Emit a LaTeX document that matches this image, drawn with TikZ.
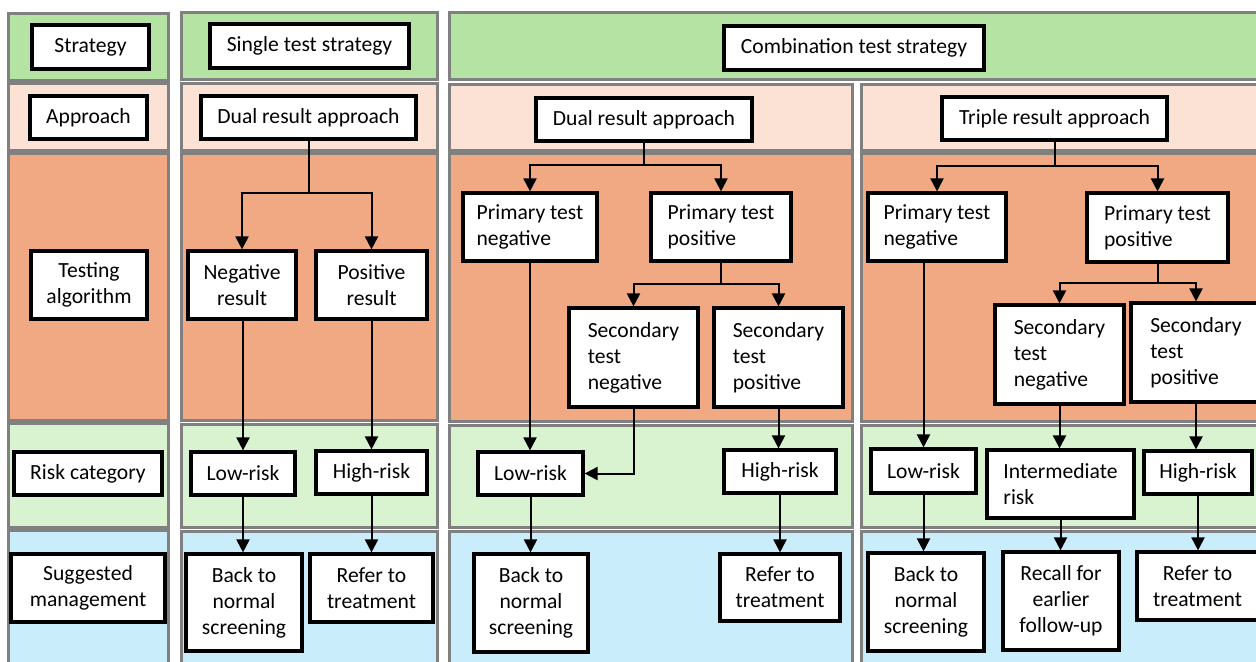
\documentclass[tikz,border=0pt]{standalone}
\usepackage{fontspec}
\setmainfont{Carlito}
\usetikzlibrary{arrows.meta}
\definecolor{gStrat}{HTML}{B4E3A3}
\definecolor{gAppr}{HTML}{FBE2D5}
\definecolor{gTest}{HTML}{F1A983}
\definecolor{gRisk}{HTML}{D9F2D0}
\definecolor{gMgmt}{HTML}{CAEDFB}
\definecolor{gEdge}{HTML}{808080}
\newcommand\bx[7][box]{\node[#1,minimum width={(#5-#3)*0.5pt},minimum height={(#6-#4)*0.5pt}] (#2) at ({(#3+#5)/2},{(#4+#6)/2+1}) {#7};}
\begin{document}
\begin{tikzpicture}[x=0.5pt,y=-0.5pt,
  cell/.style={draw=gEdge,line width=1.5pt},
  box/.style={draw=black,line width=1.6pt,fill=white,inner sep=1pt,font=\fontsize{10.8}{13}\selectfont,align=center},
  lbox/.style={box,align=left},
  arr/.style={line width=1pt,-{Triangle[length=6.5pt,width=6.5pt]}},
  ln/.style={line width=1pt}]
\useasboundingbox (0,0) rectangle (1256,661);
\clip (0,0) rectangle (1256,661);
% left column cells
\draw[cell,fill=gStrat] (8,13) rectangle (168,80);
\draw[cell,fill=gAppr] (8,83) rectangle (168,150);
\draw[cell,fill=gTest] (8,153) rectangle (168,420);
\draw[cell,fill=gRisk] (8,423) rectangle (168,527);
\draw[cell,fill=gMgmt] (8,530) rectangle (168,680);
% single column cells
\draw[cell,fill=gStrat] (181,12) rectangle (437,79);
\draw[cell,fill=gAppr] (181,83) rectangle (437,150);
\draw[cell,fill=gTest] (181,153) rectangle (437,420);
\draw[cell,fill=gRisk] (181,424) rectangle (437,527);
\draw[cell,fill=gMgmt] (181,531) rectangle (437,680);
% combination cells
\draw[cell,fill=gStrat] (449,12) rectangle (1275,79);
\draw[cell,fill=gAppr] (449,84) rectangle (852,150);
\draw[cell,fill=gTest] (449,153) rectangle (852,421);
\draw[cell,fill=gRisk] (449,425) rectangle (852,527);
\draw[cell,fill=gMgmt] (449,531) rectangle (852,680);
\draw[cell,fill=gAppr] (861,84) rectangle (1275,150);
\draw[cell,fill=gTest] (861,153) rectangle (1275,421);
\draw[cell,fill=gRisk] (861,425) rectangle (1275,527);
\draw[cell,fill=gMgmt] (861,531) rectangle (1275,680);
% left labels
\bx{hStrat}{32}{24}{149}{68}{Strategy}
\bx{hAppr}{30}{95}{147}{138}{Approach}
\bx{hTest}{31}{250}{147}{318}{Testing\\algorithm}
\bx{hRisk}{14}{451}{162}{494}{Risk category}
\bx{hMgmt}{11}{553}{165}{621}{Suggested\\management}
% single
\bx{sStrat}{210}{23}{409}{67}{Single test strategy}
\bx{sAppr}{201}{95}{416}{138}{Dual result approach}
\bx{sNeg}{188}{250}{296}{318}{Negative\\result}
\bx{sPos}{316}{250}{427}{318}{Positive\\result}
\bx{sLow}{191}{451}{295}{494}{Low-risk}
\bx{sHigh}{316}{450}{427}{493}{High-risk}
\bx{sBack}{186}{553}{302}{650}{Back to\\normal\\screening}
\bx{sRef}{310}{553}{433}{621}{Refer to\\treatment}
% combination
\bx{cStrat}{724}{25}{984}{69}{Combination test strategy}
\bx{dAppr}{536}{97}{752}{140}{Dual result approach}
\bx{tAppr}{942}{96}{1167}{139}{Triple result approach}
% dual
\bx[lbox]{dPN}{463}{192}{597}{260}{Primary test\\negative}
\bx[lbox]{dPP}{651}{192}{791}{260}{Primary test\\positive}
\bx[lbox]{dSN}{569}{307}{698}{406}{Secondary\\test\\negative}
\bx[lbox]{dSP}{714}{307}{843}{406}{Secondary\\test\\positive}
\bx{dLow}{478}{451}{583}{494}{Low-risk}
\bx{dHigh}{724}{449}{836}{492}{High-risk}
\bx{dBack}{474}{553}{588}{651}{Back to\\normal\\screening}
\bx{dRef}{720}{553}{840}{620}{Refer to\\treatment}
% triple
\bx[lbox]{tPN}{868}{192}{1006}{260}{Primary test\\negative}
\bx[lbox]{tPP}{1087}{192}{1228}{261}{Primary test\\positive}
\bx[lbox]{tSN}{995}{304}{1124}{403}{Secondary\\test\\negative}
\bx[lbox]{tSP}{1131}{302}{1261}{401}{Secondary\\test\\positive}
\bx{tLow}{871}{448}{976}{492}{Low-risk}
\bx[lbox]{tInt}{987}{449}{1134}{517}{Intermediate\\risk}
\bx{tHigh}{1144}{450}{1252}{493}{High-risk}
\bx{tBack}{868}{552}{984}{650}{Back to\\normal\\screening}
\bx{tRec}{1003}{551}{1119}{649}{Recall for\\earlier\\follow-up}
\bx{tRef}{1137}{551}{1258}{619}{Refer to\\treatment}
% single connectors
\draw[ln] (sAppr.south) -- (sAppr.south |- 0,193) coordinate (sJ);
\draw[arr] (sJ) -| (sNeg.north);
\draw[arr] (sJ) -| (sPos.north);
\draw[arr] (sLow.north |- sNeg.south) -- (sLow.north);
\draw[arr] (sHigh.north |- sPos.south) -- (sHigh.north);
\draw[arr] (sLow.south) -- (sLow.south |- sBack.north);
\draw[arr] (sHigh.south) -- (sHigh.south |- sRef.north);
% dual connectors
\draw[ln] (dAppr.south) -- (dAppr.south |- 0,165) coordinate (dJ);
\draw[arr] (dJ) -| (dPN.north);
\draw[arr] (dJ) -| (dPP.north);
\draw[ln] (dPP.south) -- (dPP.south |- 0,284) coordinate (dK);
\draw[arr] (dK) -| (dSN.north);
\draw[arr] (dK) -| (dSP.north);
\draw[arr] (dPN.south) -- (dPN.south |- dLow.north);
\draw[arr] (dSN.south) |- (dLow.east);
\draw[arr] (dSP.south) -- (dSP.south |- dHigh.north);
\draw[arr] (dLow.south) -- (dLow.south |- dBack.north);
\draw[arr] (dHigh.south) -- (dHigh.south |- dRef.north);
% triple connectors
\draw[ln] (tAppr.south) -- (tAppr.south |- 0,166) coordinate (tJ);
\draw[arr] (tJ) -| (tPN.north);
\draw[arr] (tJ) -| (tPP.north);
\draw[ln] (tPP.south) -- (tPP.south |- 0,283) coordinate (tK);
\draw[arr] (tK) -| (tSN.north);
\draw[arr] (tK) -| (tSP.north);
\draw[arr] (tLow.north |- tPN.south) -- (tLow.north);
\draw[arr] (tSN.south) -- (tSN.south |- tInt.north);
\draw[arr] (tSP.south) -- (tSP.south |- tHigh.north);
\draw[arr] (tLow.south) -- (tLow.south |- tBack.north);
\draw[arr] (tInt.south) -- (tInt.south |- tRec.north);
\draw[arr] (tHigh.south) -- (tHigh.south |- tRef.north);
\end{tikzpicture}
\end{document}
